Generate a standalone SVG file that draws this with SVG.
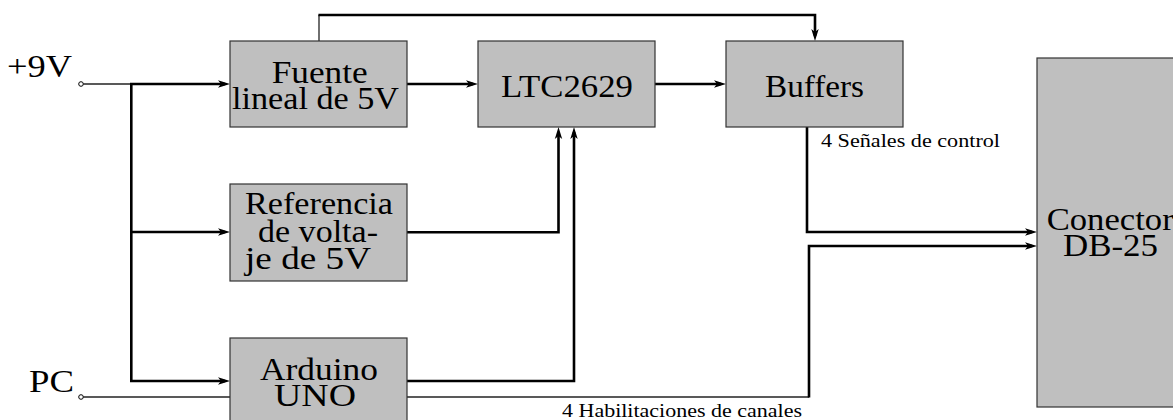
<svg xmlns="http://www.w3.org/2000/svg" width="1173" height="420" viewBox="0 0 1173 420">
<style>
.box{fill:#bfbfbf;stroke:#333333;stroke-width:1.2}
.t{font-family:'Liberation Serif','DejaVu Serif','Times New Roman',serif;font-size:31px;fill:#000}
.s{font-family:'Liberation Serif','DejaVu Serif','Times New Roman',serif;font-size:19px;fill:#000}
.thick{fill:none;stroke:#000;stroke-width:2.6;stroke-linejoin:miter}
.thin{fill:none;stroke:#222;stroke-width:1.3}
.arr{marker-end:url(#ah)}
</style>
<defs>
<marker id="ah" markerUnits="userSpaceOnUse" markerWidth="14" markerHeight="10" viewBox="0 0 14 10" refX="7" refY="5" orient="auto">
<path d="M0,1.3 L12,5 L0,8.7 L3,5 Z" fill="#000"/>
</marker>
</defs>
<rect width="1173" height="420" fill="#fff"/>

<g id="connectors">
<path class="thin" d="M83.3,84 H130"/>
<path class="thick arr" d="M130,84 H225"/>
<path class="thick" d="M131.3,84 V381"/>
<path class="thick arr" d="M131.3,232 H225"/>
<path class="thick arr" d="M130,381 H225"/>
<path class="thick arr" d="M407,84 H473"/>
<path class="thick arr" d="M655,84 H721"/>
<path class="thin" d="M319,41 V15"/>
<path class="thick arr" d="M318.4,15 H815 V36"/>
<path class="thick arr" d="M407,232.3 H558.5 V132"/>
<path class="thick arr" d="M407,381 H574 V132"/>
<path class="thick arr" d="M807,127 V232 H1032"/>
<path class="thin" d="M83.3,397 H230"/>
<path class="thin" d="M407,397 H809"/>
<path class="thick arr" d="M809,397.6 V246 H1032"/>
<text class="s" x="821" y="147" textLength="179" lengthAdjust="spacingAndGlyphs">4 Señales de control</text>
<text class="s" x="562" y="416.5" textLength="240" lengthAdjust="spacingAndGlyphs">4 Habilitaciones de canales</text>
</g>

<g id="in9v">
<circle cx="81" cy="84" r="2.3" fill="#fff" stroke="#000" stroke-width="1"/>
<text class="t" x="7" y="77" textLength="65" lengthAdjust="spacingAndGlyphs">+9V</text>
</g>
<g id="inpc">
<circle cx="81" cy="397" r="2.3" fill="#fff" stroke="#000" stroke-width="1"/>
<text class="t" x="29" y="392" textLength="45" lengthAdjust="spacingAndGlyphs">PC</text>
</g>

<g id="fuente">
<rect class="box" x="230" y="41" width="177" height="86"/>
<text class="t" x="271.7" y="83" textLength="96" lengthAdjust="spacingAndGlyphs">Fuente</text>
<text class="t" x="232" y="109" textLength="167" lengthAdjust="spacingAndGlyphs">lineal de 5V</text>
</g>
<g id="ltc2629">
<rect class="box" x="478" y="41" width="177" height="86"/>
<text class="t" x="501" y="97" textLength="132" lengthAdjust="spacingAndGlyphs">LTC2629</text>
</g>
<g id="buffers">
<rect class="box" x="726" y="41" width="177" height="86"/>
<text class="t" x="765" y="97" textLength="99" lengthAdjust="spacingAndGlyphs">Buffers</text>
</g>
<g id="referencia">
<rect class="box" x="230" y="184" width="177" height="97"/>
<text class="t" x="245" y="214.3" textLength="148" lengthAdjust="spacingAndGlyphs">Referencia</text>
<text class="t" x="258" y="241.7" textLength="120" lengthAdjust="spacingAndGlyphs">de volta-</text>
<text class="t" x="245" y="269.3" textLength="126" lengthAdjust="spacingAndGlyphs">je de 5V</text>
</g>
<g id="arduino">
<rect class="box" x="230" y="338" width="177" height="92"/>
<text class="t" x="260" y="380" textLength="118" lengthAdjust="spacingAndGlyphs">Arduino</text>
<text class="t" x="274" y="406" textLength="82" lengthAdjust="spacingAndGlyphs">UNO</text>
</g>
<g id="conector">
<rect class="box" x="1037" y="58" width="150" height="349"/>
<text class="t" x="1046.7" y="229.5" textLength="127" lengthAdjust="spacingAndGlyphs">Conector</text>
<text class="t" x="1063" y="256" textLength="95" lengthAdjust="spacingAndGlyphs">DB-25</text>
</g>
</svg>
